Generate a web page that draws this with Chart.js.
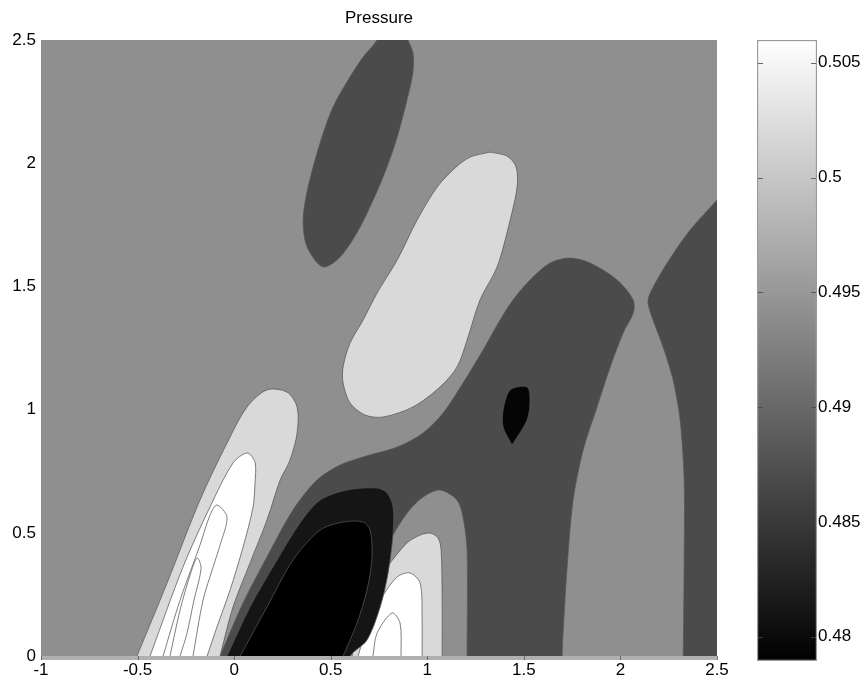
<!DOCTYPE html>
<html>
<head>
<meta charset="utf-8">
<script src="https://cdn.jsdelivr.net/npm/chart.js@4.4.1/dist/chart.umd.min.js"></script>
<style>
html,body{margin:0;padding:0;background:#fff;}
#wrap{position:relative;width:866px;height:682px;}
#wrap canvas{position:absolute;left:0;top:0;}
</style>
</head>
<body>
<div id="wrap">
<canvas id="main" width="866" height="682"></canvas>
<canvas id="cbar" width="866" height="682"></canvas>
</div>
<script>
// ---------- axes ----------
const xRange = [-1, 2.5];
const yRange = [-0.016, 2.5];
const xTicks = [-1, -0.5, 0, 0.5, 1, 1.5, 2, 2.5];
const xTickLabels = ['-1', '-0.5', '0', '0.5', '1', '1.5', '2', '2.5'];
const yTicks = [0, 0.5, 1, 1.5, 2, 2.5];
const yTickLabels = ['0', '0.5', '1', '1.5', '2', '2.5'];
const cbarRange = [0.47894, 0.50599];
const cbarTicks = [0.48, 0.485, 0.49, 0.495, 0.5, 0.505];
const cbarTickLabels = ['0.48', '0.485', '0.49', '0.495', '0.5', '0.505'];

// ---------- contour regions (x, y outlines), painted bottom to top ----------
const backgroundRegion = [[-1.1,-0.1],[2.6,-0.1],[2.6,2.6],[-1.1,2.6]];
const topDarkLobe = [[0.78,2.58],[0.87,2.58],[0.900,2.5],[0.926,2.447],[0.927,2.38],[0.911,2.309],[0.844,2.106],[0.771,1.944],[0.652,1.741],[0.548,1.619],[0.460,1.579],[0.378,1.660],[0.357,1.769],[0.383,1.903],[0.445,2.082],[0.512,2.228],[0.600,2.350],[0.668,2.431],[0.740,2.5]];
const upperLightLobe = [[1.325,2.045],[1.413,2.029],[1.460,1.985],[1.465,1.903],[1.429,1.769],[1.3615,1.579],[1.273,1.445],[1.206,1.282],[1.154,1.173],[1.066,1.092],[0.926,1.011],[0.771,0.970],[0.678,0.978],[0.600,1.027],[0.564,1.108],[0.564,1.173],[0.600,1.270],[0.668,1.364],[0.740,1.473],[0.844,1.607],[0.947,1.769],[1.051,1.903],[1.144,1.981],[1.222,2.025]];
const centralDark = [[-0.128,-0.1],[-0.073,0],[0.046,0.215],[0.170,0.402],[0.305,0.593],[0.429,0.714],[0.548,0.775],[0.668,0.808],[0.844,0.848],[0.978,0.905],[1.082,0.986],[1.185,1.108],[1.289,1.242],[1.377,1.364],[1.444,1.445],[1.532,1.526],[1.636,1.595],[1.740,1.615],[1.843,1.595],[1.983,1.526],[2.066,1.445],[2.066,1.392],[2.014,1.311],[1.947,1.173],[1.879,1.011],[1.807,0.836],[1.755,0.633],[1.724,0.361],[1.703,0.093],[1.698,0],[1.693,-0.1]];
const rightDark = [[2.6,1.95],[2.5,1.851],[2.361,1.729],[2.242,1.595],[2.154,1.473],[2.143,1.433],[2.169,1.364],[2.221,1.254],[2.273,1.120],[2.309,0.958],[2.330,0.714],[2.330,0.390],[2.325,0],[2.32,-0.1],[2.6,-0.1]];
const darkSpot = [[1.439,0.856],[1.3925,0.929],[1.3925,0.998],[1.429,1.080],[1.517,1.092],[1.532,1.039],[1.517,0.958]];
const leftLightLobe = [[-0.555,-0.1],[-0.503,0],[-0.3475,0.296],[-0.177,0.633],[-0.037,0.864],[0.067,1.011],[0.170,1.080],[0.274,1.071],[0.326,1.011],[0.326,0.905],[0.289,0.795],[0.238,0.714],[0.170,0.552],[0.082,0.377],[-0.006,0.199],[-0.073,0],[-0.107,-0.1]];
const leftWhiteLobe = [[-0.483,-0.1],[-0.4355,0],[-0.265,0.361],[-0.125,0.605],[-0.006,0.783],[0.067,0.824],[0.108,0.787],[0.108,0.702],[0.098,0.605],[0.046,0.442],[-0.021,0.268],[-0.089,0.118],[-0.140,0],[-0.183,-0.1]];
const leftInnerA = [[-0.407,-0.1],[-0.368,0],[-0.280,0.227],[-0.177,0.450],[-0.125,0.572],[-0.089,0.613],[-0.037,0.564],[-0.073,0.450],[-0.109,0.361],[-0.161,0.227],[-0.213,0],[-0.236,-0.1]];
const leftInnerB = [[-0.36,-0.1],[-0.332,0],[-0.280,0.187],[-0.228,0.329],[-0.192,0.398],[-0.171,0.357],[-0.208,0.227],[-0.244,0.093],[-0.280,0],[-0.319,-0.1]];
const midGrayLobe = [[0.57,-0.1],[0.585,0],[0.600,0.093],[0.636,0.187],[0.719,0.337],[0.807,0.471],[0.895,0.580],[0.978,0.645],[1.066,0.674],[1.154,0.633],[1.185,0.564],[1.206,0.430],[1.206,0],[1.206,-0.1]];
const midLightLobe = [[0.594,-0.1],[0.611,0],[0.636,0.146],[0.704,0.256],[0.792,0.361],[0.895,0.459],[0.963,0.491],[1.0145,0.499],[1.056,0.479],[1.0715,0.430],[1.077,0.227],[1.077,0],[1.077,-0.1]];
const midWhiteLobe = [[0.603,-0.1],[0.642,0],[0.688,0.118],[0.756,0.227],[0.844,0.321],[0.911,0.337],[0.963,0.296],[0.973,0.146],[0.973,0],[0.973,-0.1]];
const midInner = [[0.70,-0.1],[0.719,0],[0.740,0.093],[0.818,0.175],[0.859,0.134],[0.864,0],[0.864,-0.1]];
const nearBlackCore = [[-0.097,-0.1],[-0.037,0],[0.082,0.199],[0.222,0.390],[0.341,0.540],[0.445,0.633],[0.585,0.674],[0.740,0.682],[0.792,0.662],[0.823,0.605],[0.823,0.499],[0.797,0.337],[0.756,0.199],[0.688,0.065],[0.600,0],[0.55,-0.1]];
const blackCore = [[-0.039,-0.1],[0.031,0],[0.170,0.199],[0.305,0.390],[0.445,0.511],[0.564,0.544],[0.668,0.544],[0.704,0.511],[0.714,0.402],[0.688,0.268],[0.636,0.134],[0.564,0],[0.51,-0.1]];
const bottomStrip = [[-1.1,-0.1],[2.6,-0.1],[2.6,0],[-1.1,0]];

// pressure level of each region (mapped through the gray colormap of the colorbar)
const regionOutlines = [backgroundRegion, topDarkLobe, upperLightLobe, centralDark, rightDark, darkSpot,
  leftLightLobe, leftWhiteLobe, leftInnerA, leftInnerB, midGrayLobe, midLightLobe, midWhiteLobe, midInner,
  nearBlackCore, blackCore, bottomStrip];
const regionLevels = [0.4941, 0.4869, 0.5020, 0.4869, 0.4869, 0.4795,
  0.5020, 0.5065, 0.5080, 0.5095, 0.4941, 0.5020, 0.5065, 0.5080,
  0.4812, 0.4785, 0.4976];

function grayFor(level) {
  let t = (level - cbarRange[0]) / (cbarRange[1] - cbarRange[0]);
  t = Math.max(0, Math.min(1, t));
  const g = Math.round(t * 255);
  return 'rgb(' + g + ',' + g + ',' + g + ')';
}

const N = regionOutlines.length;
const datasets = regionOutlines.map((pts, i) => {
  const data = pts.map(p => ({x: p[0], y: p[1]}));
  data.push({x: pts[0][0], y: pts[0][1]});
  const plain = (i === 0 || i === N - 1);
  return {
    data: data,
    showLine: true,
    fill: 'shape',
    backgroundColor: grayFor(regionLevels[i]),
    borderColor: plain ? 'rgba(0,0,0,0)' : 'rgba(85,85,85,0.75)',
    borderWidth: plain ? 0 : 1,
    pointRadius: 0,
    pointHoverRadius: 0,
    tension: plain ? 0 : 0.3,
    order: N - i
  };
});

Chart.defaults.font.family = '"Liberation Sans", Arial, Helvetica, sans-serif';
Chart.defaults.font.size = 17;
Chart.defaults.color = '#000';

const axisTickMarks = {
  id: 'axisTickMarks',
  afterDatasetsDraw(chart) {
    const c = chart.ctx, a = chart.chartArea, xs = chart.scales.x;
    c.save();
    c.strokeStyle = 'rgba(90,90,90,0.8)';
    c.lineWidth = 1;
    xTicks.forEach(v => {
      const p = Math.round(xs.getPixelForValue(v)) + 0.5;
      c.beginPath(); c.moveTo(p, a.bottom); c.lineTo(p, a.bottom - 4); c.stroke();
    });
    c.restore();
  }
};

new Chart(document.getElementById('main'), {
  type: 'scatter',
  data: {datasets: datasets},
  options: {
    responsive: false,
    animation: false,
    devicePixelRatio: 1,
    events: [],
    layout: {padding: {left: 0, right: 149, top: 0, bottom: 0}},
    plugins: {
      legend: {display: false},
      tooltip: {enabled: false},
      title: {
        display: true, text: 'Pressure', fullSize: false, color: '#000',
        font: {size: 17, weight: 'normal'}, padding: {top: 8, bottom: 11.6}
      }
    },
    scales: {
      x: {
        type: 'linear', min: xRange[0], max: xRange[1],
        grid: {display: false, drawTicks: false},
        border: {display: false},
        afterBuildTicks: s => { s.ticks = xTicks.map(v => ({value: v})); },
        afterFit: s => { s.height = 22; },
        ticks: {padding: 0, maxRotation: 0, minRotation: 0, autoSkip: false,
          callback: (v, i) => xTickLabels[i]}
      },
      y: {
        type: 'linear', min: yRange[0], max: yRange[1],
        grid: {display: false, drawTicks: false},
        border: {display: false},
        afterBuildTicks: s => { s.ticks = yTicks.map(v => ({value: v})); },
        afterFit: s => { s.width = 41; },
        ticks: {padding: 5, autoSkip: false, callback: (v, i) => yTickLabels[i]}
      }
    }
  },
  plugins: [axisTickMarks]
});

// ---------- colorbar ----------
const cbarTickMarks = {
  id: 'cbarTickMarks',
  afterDatasetsDraw(chart) {
    const c = chart.ctx, a = chart.chartArea, ys = chart.scales.y;
    c.save();
    c.strokeStyle = 'rgba(70,70,70,0.8)';
    c.lineWidth = 1;
    cbarTicks.forEach(v => {
      const p = Math.round(ys.getPixelForValue(v)) + 0.5;
      c.beginPath();
      c.moveTo(a.left + 1, p); c.lineTo(a.left + 6, p);
      c.moveTo(a.right - 6, p); c.lineTo(a.right - 1, p);
      c.stroke();
    });
    c.restore();
  }
};

new Chart(document.getElementById('cbar'), {
  type: 'bar',
  data: {
    labels: ['Pressure'],
    datasets: [{
      data: [[cbarRange[0], cbarRange[1]]],
      backgroundColor: (ctx) => {
        const chart = ctx.chart, a = chart.chartArea;
        if (!a) return '#888';
        const g = chart.ctx.createLinearGradient(0, a.bottom, 0, a.top);
        g.addColorStop(0, grayFor(cbarRange[0]));
        g.addColorStop(1, grayFor(cbarRange[1]));
        return g;
      },
      borderColor: '#9a9a9a',
      borderWidth: 1.5,
      borderSkipped: false,
      barPercentage: 1,
      categoryPercentage: 1
    }]
  },
  options: {
    responsive: false,
    animation: false,
    devicePixelRatio: 1,
    events: [],
    layout: {padding: {left: 757, right: 0, top: 40, bottom: 21}},
    plugins: {legend: {display: false}, tooltip: {enabled: false}},
    scales: {
      x: {display: false},
      y: {
        position: 'right', min: cbarRange[0], max: cbarRange[1],
        grid: {display: false, drawTicks: false},
        border: {display: false},
        afterBuildTicks: s => { s.ticks = cbarTicks.map(v => ({value: v})); },
        afterFit: s => { s.width = 49; },
        ticks: {padding: 1, autoSkip: false, callback: (v, i) => cbarTickLabels[i]}
      }
    }
  },
  plugins: [cbarTickMarks]
});
</script>
</body>
</html>
